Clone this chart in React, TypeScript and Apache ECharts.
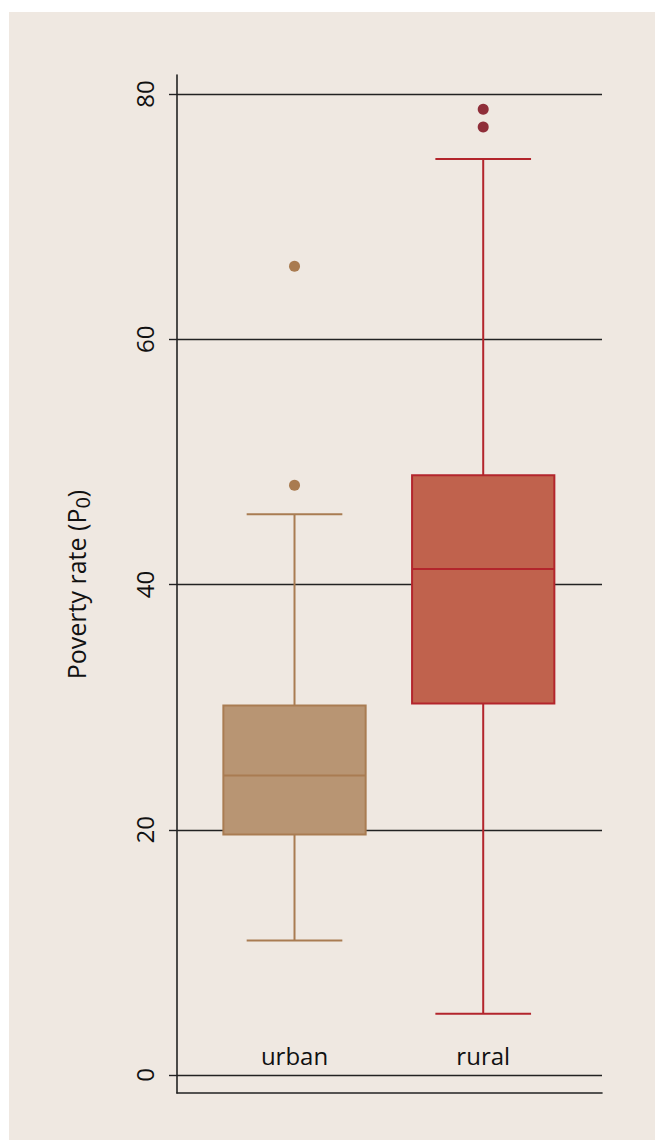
import React, { useEffect, useRef } from "react";
import * as echarts from "echarts";

const categories = ["urban", "rural"];
const categoryPos = [1, 2];
const lowerWhisker = [10.96, 5.0];
const q1 = [19.61, 30.3];
const median = [24.43, 41.26];
const q3 = [30.14, 48.91];
const upperWhisker = [45.72, 74.7];
const outliersUrban = [48.09, 65.96];
const outliersRural = [77.31, 78.75];
const yTickMin = 0;
const yTickMax = 80;
const yTickStep = 20;

const fills = ["#b89573", "#c0624d"];
const strokes = ["#a97c52", "#b3252c"];
const dotColors = ["#a97b50", "#8f2e39"];
const FONT = "'Open Sans', 'Noto Sans', sans-serif";

export default function App() {
  const ref = useRef<HTMLDivElement>(null);
  useEffect(() => {
    if (!ref.current) return;
    const chart = echarts.init(ref.current, null, { renderer: "svg" });
    const boxData = categories.map((c, i) => [
      categoryPos[i],
      lowerWhisker[i],
      q1[i],
      median[i],
      q3[i],
      upperWhisker[i],
      i,
    ]);
    const BOX_W = 0.754;
    const CAP_W = 0.507;
    const option: any = {
      animation: false,
      backgroundColor: "transparent",
      textStyle: { fontFamily: FONT },
      grid: [
        { left: 168, right: 53, top: 82, bottom: 65 },
        { left: 168, right: 53, top: 63, bottom: 47 },
      ],
      xAxis: [
        { type: "value", gridIndex: 0, min: 0.3773, max: 2.6295, show: false },
        {
          type: "value",
          gridIndex: 1,
          min: 0,
          max: 1,
          axisLine: { show: true, lineStyle: { color: "#222", width: 1.6 } },
          axisTick: { show: false },
          axisLabel: { show: false },
          splitLine: { show: false },
        },
      ],
      yAxis: [
        {
          type: "value",
          gridIndex: 0,
          min: yTickMin,
          max: yTickMax,
          interval: yTickStep,
          axisLine: { show: false },
          axisTick: { show: true, length: 8, lineStyle: { color: "#222", width: 1.4 } },
          axisLabel: {
            rotate: 90,
            margin: 21,
            color: "#111",
            fontSize: 24,
            fontFamily: FONT,
          },
          splitLine: { show: true, lineStyle: { color: "#222", width: 1.4 } },
          name: "Poverty rate (P{sub|0})",
          nameLocation: "middle",
          nameGap: 85,
          nameRotate: 90,
          nameTextStyle: {
            color: "#111",
            fontSize: 25,
            fontFamily: FONT,
            rich: {
              sub: { fontSize: 20, verticalAlign: "bottom", fontFamily: FONT, color: "#111", padding: [12, 0, 0, 0] },
            },
          },
        },
        {
          type: "value",
          gridIndex: 1,
          min: 0,
          max: 1,
          axisLine: { show: true, lineStyle: { color: "#222", width: 1.6 } },
          axisTick: { show: false },
          axisLabel: { show: false },
          splitLine: { show: false },
        },
      ],
      series: [
        {
          type: "custom",
          xAxisIndex: 0,
          yAxisIndex: 0,
          data: boxData,
          encode: { x: 0, y: [1, 2, 3, 4, 5] },
          renderItem: (params: any, api: any) => {
            const x = api.value(0);
            const idx = api.value(6);
            const lo = api.coord([x, api.value(1)]);
            const b1 = api.coord([x, api.value(2)]);
            const md = api.coord([x, api.value(3)]);
            const b3 = api.coord([x, api.value(4)]);
            const hi = api.coord([x, api.value(5)]);
            const zero = api.coord([x, 0]);
            const bw = api.size([BOX_W, 0])[0];
            const cw = api.size([CAP_W, 0])[0];
            const cx = lo[0];
            const st = strokes[idx];
            const lineStyle = { stroke: st, lineWidth: 2 };
            return {
              type: "group",
              children: [
                { type: "line", shape: { x1: cx, y1: hi[1], x2: cx, y2: b3[1] }, style: lineStyle },
                { type: "line", shape: { x1: cx, y1: b1[1], x2: cx, y2: lo[1] }, style: lineStyle },
                { type: "line", shape: { x1: cx - cw / 2, y1: hi[1], x2: cx + cw / 2, y2: hi[1] }, style: lineStyle },
                { type: "line", shape: { x1: cx - cw / 2, y1: lo[1], x2: cx + cw / 2, y2: lo[1] }, style: lineStyle },
                {
                  type: "rect",
                  shape: { x: cx - bw / 2, y: b3[1], width: bw, height: b1[1] - b3[1] },
                  style: { fill: fills[idx], stroke: st, lineWidth: 2 },
                },
                { type: "line", shape: { x1: cx - bw / 2, y1: md[1], x2: cx + bw / 2, y2: md[1] }, style: lineStyle },
                {
                  type: "text",
                  x: cx,
                  y: zero[1] - 8,
                  style: {
                    text: categories[idx],
                    fill: "#111",
                    fontSize: 24,
                    fontFamily: FONT,
                    align: "center",
                    verticalAlign: "bottom",
                  },
                },
              ],
            };
          },
        },
        {
          type: "scatter",
          xAxisIndex: 0,
          yAxisIndex: 0,
          symbolSize: 11,
          itemStyle: { color: dotColors[0], opacity: 1 },
          data: outliersUrban.map((v) => [categoryPos[0], v]),
        },
        {
          type: "scatter",
          xAxisIndex: 0,
          yAxisIndex: 0,
          symbolSize: 11,
          itemStyle: { color: dotColors[1], opacity: 1 },
          data: outliersRural.map((v) => [categoryPos[1], v]),
        },
      ],
    };
    chart.setOption(option);
    return () => chart.dispose();
  }, []);
  return (
    <div
      style={{
        position: "absolute",
        left: 9,
        top: 12,
        width: 646,
        height: 1128,
        background: "#efe8e1",
      }}
    >
      <div ref={ref} style={{ width: 646, height: 1128 }} />
    </div>
  );
}
